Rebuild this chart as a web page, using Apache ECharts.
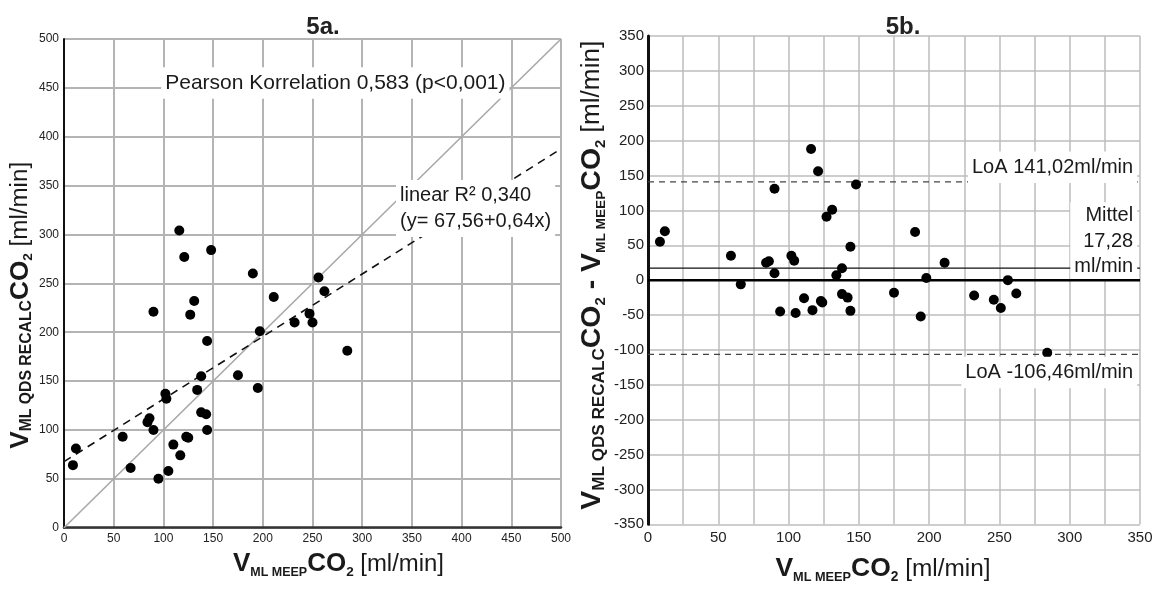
<!DOCTYPE html>
<html>
<head>
<meta charset="utf-8">
<script src="https://cdn.jsdelivr.net/npm/echarts@6/dist/echarts.min.js"></script>
<style>
  html, body { margin: 0; padding: 0; background: #fff; }
  #chart { width: 1158px; height: 589px; }
</style>
</head>
<body>
<div id="chart"></div>
<script>
// 5a: QDS recalc vs MEEP (ml/min)
const meepX = [9, 12, 59, 67, 84, 86, 90, 90, 95, 102, 103, 105, 110, 117, 123, 125, 127, 131, 134, 138,
  138, 143, 144, 144, 175, 195, 197, 211, 232, 116, 121, 148, 190, 256, 262, 247, 250, 285];
const recalcY = [64, 81, 93, 61, 108, 112, 100, 221, 50, 137, 132, 58, 85, 74, 93, 92, 218, 232, 141, 155,
  118, 116, 100, 191, 156, 143, 201, 236, 210, 304, 277, 284, 260, 256, 242, 219, 210, 181];

// 5b: Bland-Altman
const baX = [8.5, 12, 59, 66, 84, 86, 90, 90, 94, 102, 104, 105, 111, 117, 116, 121, 123, 124, 127, 131,
  134, 138, 138, 142, 144, 144, 148, 175, 190, 194, 198, 211, 232, 246, 251, 256, 262, 284];
const baDiff = [55, 70, 35, -6, 25, 27, 131, 10, -45, 35, 28, -47, -26, -43, 188, 156, -30, -32, 91, 101,
  7, 17, -20, -25, 48, -44, 137, -18, 69, -52, 3, 25, -22, -28, -40, 0, -19, -104];

const regIntercept = 67.56;
const regSlope = 0.64;
const loaUpper = 141.02;
const loaLower = -106.46;
const meanDiff = 17.28;

const FONT = '"Liberation Sans", Arial, sans-serif';
const INK = '#1a1a1a';

// rich styles for the subscripted axis names, k = size factor
function nameRich(k) {
  return {
    v: { fontSize: 25 * k, fontWeight: 'bold', lineHeight: 28 * k, color: INK, fontFamily: FONT },
    s: { fontSize: 12 * k, fontWeight: 'bold', lineHeight: 19 * k, verticalAlign: 'bottom', color: INK, fontFamily: FONT },
    sy: { fontSize: 15 * k, fontWeight: 'bold', lineHeight: 21 * k, verticalAlign: 'bottom', color: INK, fontFamily: FONT },
    t: { fontSize: 13 * k, fontWeight: 'bold', lineHeight: 15 * k, verticalAlign: 'bottom', color: INK, fontFamily: FONT },
    u: { fontSize: 23 * k, lineHeight: 28 * k, color: INK, fontFamily: FONT }
  };
}

const pts = (xs, ys) => xs.map((x, i) => [x, ys[i]]);

function note(x, y, text, align, fontSize, pad) {
  return {
    value: [x, y],
    label: {
      show: true, position: 'inside', formatter: text, align: align, verticalAlign: 'middle',
      fontSize: fontSize, fontFamily: FONT, color: INK, lineHeight: 25.5,
      backgroundColor: '#fff', padding: pad || [3, 4, 3, 4]
    }
  };
}

const chart = echarts.init(document.getElementById('chart'));
chart.setOption({
  backgroundColor: '#fff',
  animation: false,
  title: [
    { text: '5a.', left: 318, top: 22, textAlign: 'center', textVerticalAlign: 'middle',
      textStyle: { fontSize: 24, fontWeight: 'bold', fontFamily: FONT, color: '#222' } },
    { text: '5b.', left: 898, top: 22, textAlign: 'center', textVerticalAlign: 'middle',
      textStyle: { fontSize: 24, fontWeight: 'bold', fontFamily: FONT, color: '#222' } }
  ],
  grid: [
    { left: 64, top: 39, width: 497, bottom: 61.3 },
    { left: 648, top: 36, width: 492, bottom: 61.3 }
  ],
  xAxis: [
    {
      gridIndex: 0, type: 'value', min: 0, max: 500, interval: 50,
      name: '{v|V}{s|ML MEEP}{v|CO}{t|2}{u| [ml/min]}', nameLocation: 'middle', nameGap: 22,
      nameTextStyle: { rich: nameRich(1.04), padding: [0, 0, 0, 52] },
      axisLine: { lineStyle: { color: '#333', width: 2.5 } },
      axisTick: { show: false },
      axisLabel: { fontSize: 12, color: '#222', fontFamily: FONT, margin: 5 },
      splitLine: { lineStyle: { color: '#b4b4b4', width: 2 } }
    },
    {
      gridIndex: 1, type: 'value', min: 0, max: 350, interval: 25,
      name: '{v|V}{s|ML MEEP}{v|CO}{t|2}{u| [ml/min]}', nameLocation: 'middle', nameGap: 30,
      nameTextStyle: { rich: nameRich(1.06), padding: [0, 22, 0, 0] },
      axisLine: { show: false, onZero: false },
      axisTick: { show: false },
      axisLabel: { fontSize: 15, color: '#222', fontFamily: FONT, margin: 6,
        formatter: v => (v % 50 === 0 ? String(v) : '') },
      splitLine: { lineStyle: { color: '#bdbdbd', width: 1.5 } }
    }
  ],
  yAxis: [
    {
      gridIndex: 0, type: 'value', min: 0, max: 500, interval: 50,
      name: '{v|V}{sy|ML QDS RECALC}{v|CO}{t|2}{u| [ml/min]}', nameLocation: 'middle', nameGap: 26,
      nameTextStyle: { rich: nameRich(1.05), padding: [0, 44, 0, 0] },
      axisLine: { lineStyle: { color: '#111', width: 2 } },
      axisTick: { show: false },
      axisLabel: { fontSize: 12, color: '#222', fontFamily: FONT, margin: 5 },
      splitLine: { lineStyle: { color: '#b4b4b4', width: 2 } }
    },
    {
      gridIndex: 1, type: 'value', min: -350, max: 350, interval: 50,
      name: '{v|V}{sy|ML QDS RECALC}{v|CO}{t|2}{v| - V}{s|ML MEEP}{v|CO}{t|2}{u| [ml/min]}',
      nameLocation: 'middle', nameGap: 40,
      nameTextStyle: { rich: nameRich(1.14), padding: [0, 0, 0, 10] },
      axisLine: { onZero: false, lineStyle: { color: '#111', width: 3 } },
      axisTick: { show: false },
      axisLabel: { fontSize: 15, color: '#222', fontFamily: FONT, margin: 4 },
      splitLine: { lineStyle: { color: '#bdbdbd', width: 1.5 } }
    }
  ],
  series: [
    {
      type: 'line', xAxisIndex: 0, yAxisIndex: 0, symbol: 'none', silent: true,
      data: [[0, 0], [500, 500]],
      lineStyle: { color: '#a8a8a8', width: 1.6 }, z: 2
    },
    {
      type: 'line', xAxisIndex: 0, yAxisIndex: 0, symbol: 'none', silent: true,
      data: [[0, regIntercept], [500, regIntercept + regSlope * 500]],
      lineStyle: { color: '#111', width: 1.6, type: [8, 6] }, z: 3
    },
    {
      type: 'scatter', xAxisIndex: 0, yAxisIndex: 0, symbolSize: 10,
      itemStyle: { color: '#000', opacity: 1 }, data: pts(meepX, recalcY), z: 4
    },
    {
      type: 'scatter', xAxisIndex: 0, yAxisIndex: 0, symbolSize: 0, silent: true, z: 6,
      itemStyle: { opacity: 1 },
      data: [
        note(273, 455, 'Pearson Korrelation 0,583 (p<0,001)', 'center', 21),
        note(334, 326.6, 'linear R² 0,340\n(y= 67,56+0,64x)', 'left', 20)
      ]
    },
    {
      type: 'line', xAxisIndex: 1, yAxisIndex: 1, symbol: 'none', silent: true,
      data: [[0, loaUpper], [350, loaUpper]],
      lineStyle: { color: '#444', width: 1.3, type: [6, 5] }, z: 2
    },
    {
      type: 'line', xAxisIndex: 1, yAxisIndex: 1, symbol: 'none', silent: true,
      data: [[0, loaLower], [350, loaLower]],
      lineStyle: { color: '#444', width: 1.3, type: [6, 5] }, z: 2
    },
    {
      type: 'line', xAxisIndex: 1, yAxisIndex: 1, symbol: 'none', silent: true,
      data: [[0, meanDiff], [350, meanDiff]],
      lineStyle: { color: '#111', width: 1.2 }, z: 2
    },
    {
      type: 'scatter', xAxisIndex: 1, yAxisIndex: 1, symbolSize: 10,
      itemStyle: { color: '#000', opacity: 1 }, data: pts(baX, baDiff), z: 4
    },
    {
      type: 'scatter', xAxisIndex: 1, yAxisIndex: 1, symbolSize: 0, silent: true, z: 6,
      itemStyle: { opacity: 1 },
      data: [
        note(348, 161.7, 'LoA 141,02ml/min', 'right', 20),
        note(348, 55.5, 'Mittel\n17,28\nml/min', 'right', 20, [2, 4, 0, 4]),
        note(348, -132.5, 'LoA -106,46ml/min', 'right', 20)
      ]
    },
    {
      // zero line drawn above the annotation boxes
      type: 'line', xAxisIndex: 1, yAxisIndex: 1, symbol: 'none', silent: true,
      data: [[0, 0], [350, 0]],
      lineStyle: { color: '#000', width: 2.5 }, z: 7
    }
  ]
});
</script>
</body>
</html>
